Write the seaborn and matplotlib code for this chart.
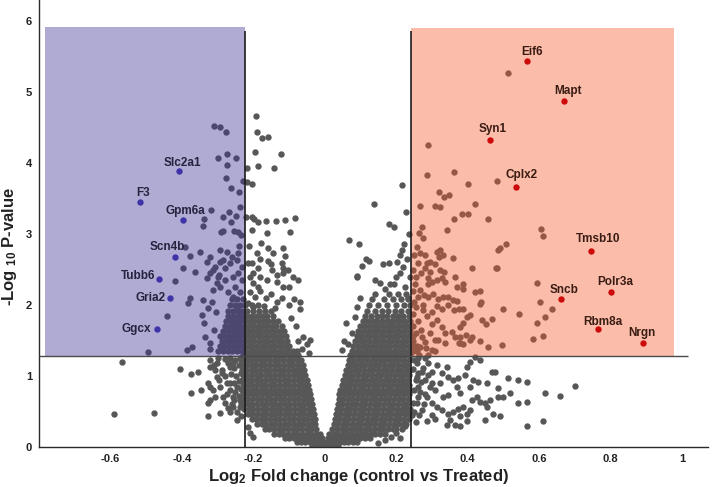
import matplotlib
matplotlib.use("Agg")
import matplotlib.pyplot as plt
import seaborn as sns
import pandas as pd
from matplotlib.patches import Rectangle

# ---------------- data ----------------
# dense V-shaped core: rows of (-log10 p, [log2 FC values])
core_rows = [
    (0.02, [-0.036, -0.024, -0.012, 0.0, 0.012, 0.024, 0.036]),
    (0.07, [-0.078, -0.066, -0.054, -0.042, -0.03, -0.018, -0.006, 0.006, 0.018, 0.03, 0.042, 0.054, 0.066, 0.078, 0.09]),
    (0.12, [-0.112, -0.099, -0.086, -0.073, -0.06, -0.047, -0.034, -0.021, -0.009, 0.008, 0.021, 0.034, 0.047, 0.06, 0.073, 0.086, 0.099, 0.112, 0.126]),
    (0.18, [-0.142, -0.129, -0.116, -0.103, -0.09, -0.077, -0.064, -0.051, -0.038, -0.025, -0.013, 0.013, 0.025, 0.038, 0.051, 0.064, 0.077, 0.09, 0.103, 0.116, 0.129, 0.142, 0.156, 0.168]),
    (0.25, [-0.168, -0.155, -0.142, -0.129, -0.116, -0.103, -0.09, -0.077, -0.064, -0.051, -0.038, -0.024, 0.021, 0.034, 0.047, 0.06, 0.073, 0.086, 0.099, 0.112, 0.125, 0.138, 0.151, 0.164, 0.177, 0.19, 0.2]),
    (0.32, [-0.19, -0.177, -0.164, -0.151, -0.138, -0.125, -0.112, -0.099, -0.086, -0.073, -0.06, -0.047, -0.035, -0.026, 0.026, 0.037, 0.05, 0.063, 0.076, 0.089, 0.102, 0.115, 0.128, 0.141, 0.154, 0.167, 0.18, 0.193, 0.206, 0.219, 0.228]),
    (0.39, [-0.205, -0.192, -0.179, -0.166, -0.153, -0.14, -0.127, -0.114, -0.101, -0.088, -0.075, -0.062, -0.049, -0.037, -0.028, 0.029, 0.04, 0.053, 0.066, 0.079, 0.092, 0.105, 0.118, 0.131, 0.144, 0.157, 0.17, 0.183, 0.196, 0.209, 0.222, 0.235]),
    (0.46, [-0.216, -0.203, -0.19, -0.177, -0.164, -0.151, -0.138, -0.125, -0.112, -0.099, -0.086, -0.073, -0.06, -0.047, -0.036, -0.03, 0.032, 0.043, 0.056, 0.069, 0.082, 0.095, 0.108, 0.121, 0.134, 0.147, 0.16, 0.173, 0.186, 0.199, 0.212, 0.225, 0.237]),
    (0.53, [-0.226, -0.213, -0.2, -0.187, -0.174, -0.161, -0.148, -0.135, -0.122, -0.109, -0.096, -0.083, -0.07, -0.057, -0.044, -0.033, 0.034, 0.046, 0.059, 0.072, 0.085, 0.098, 0.111, 0.124, 0.137, 0.15, 0.163, 0.176, 0.189, 0.202, 0.215, 0.228, 0.238]),
    (0.60, [-0.229, -0.216, -0.203, -0.19, -0.177, -0.164, -0.151, -0.138, -0.125, -0.112, -0.099, -0.086, -0.073, -0.06, -0.047, -0.036, 0.037, 0.049, 0.062, 0.075, 0.088, 0.101, 0.114, 0.127, 0.14, 0.153, 0.166, 0.179, 0.192, 0.205, 0.218, 0.231]),
    (0.67, [-0.23, -0.217, -0.204, -0.191, -0.178, -0.165, -0.152, -0.139, -0.126, -0.113, -0.1, -0.087, -0.074, -0.061, -0.049, -0.038, 0.039, 0.051, 0.064, 0.077, 0.09, 0.103, 0.116, 0.129, 0.142, 0.155, 0.168, 0.181, 0.194, 0.207, 0.22, 0.233]),
    (0.74, [-0.228, -0.215, -0.202, -0.189, -0.176, -0.163, -0.15, -0.137, -0.124, -0.111, -0.098, -0.085, -0.072, -0.06, -0.05, -0.04, 0.041, 0.053, 0.066, 0.079, 0.092, 0.105, 0.118, 0.131, 0.144, 0.157, 0.17, 0.183, 0.196, 0.209, 0.222, 0.236]),
    (0.81, [-0.231, -0.218, -0.205, -0.192, -0.179, -0.166, -0.153, -0.14, -0.127, -0.114, -0.101, -0.088, -0.075, -0.063, -0.053, -0.043, 0.044, 0.056, 0.069, 0.082, 0.095, 0.108, 0.121, 0.134, 0.147, 0.16, 0.173, 0.186, 0.199, 0.212, 0.225, 0.238]),
    (0.88, [-0.229, -0.216, -0.203, -0.19, -0.177, -0.164, -0.151, -0.138, -0.125, -0.112, -0.099, -0.086, -0.073, -0.061, -0.052, -0.046, 0.048, 0.059, 0.072, 0.085, 0.098, 0.111, 0.124, 0.137, 0.15, 0.163, 0.176, 0.189, 0.202, 0.215, 0.228, 0.237]),
    (0.95, [-0.232, -0.219, -0.206, -0.193, -0.18, -0.167, -0.154, -0.141, -0.128, -0.115, -0.102, -0.089, -0.076, -0.063, -0.05, 0.052, 0.064, 0.077, 0.09, 0.103, 0.116, 0.129, 0.142, 0.155, 0.168, 0.181, 0.194, 0.207, 0.22, 0.233]),
    (1.02, [-0.23, -0.217, -0.204, -0.191, -0.178, -0.165, -0.152, -0.139, -0.126, -0.113, -0.1, -0.087, -0.074, -0.063, -0.054, 0.056, 0.067, 0.08, 0.093, 0.106, 0.119, 0.132, 0.145, 0.158, 0.171, 0.184, 0.197, 0.21, 0.223, 0.237]),
    (1.09, [-0.233, -0.22, -0.207, -0.194, -0.181, -0.168, -0.155, -0.142, -0.129, -0.116, -0.103, -0.09, -0.077, -0.066, -0.058, 0.06, 0.071, 0.084, 0.097, 0.11, 0.123, 0.136, 0.149, 0.162, 0.175, 0.188, 0.201, 0.214, 0.227, 0.24]),
    (1.16, [-0.231, -0.218, -0.205, -0.192, -0.179, -0.166, -0.153, -0.14, -0.127, -0.114, -0.101, -0.088, -0.075, -0.062, 0.064, 0.075, 0.088, 0.101, 0.114, 0.127, 0.14, 0.153, 0.166, 0.179, 0.192, 0.205, 0.218, 0.231]),
    (1.23, [-0.234, -0.221, -0.208, -0.195, -0.182, -0.169, -0.156, -0.143, -0.13, -0.117, -0.104, -0.091, -0.078, -0.066, 0.068, 0.079, 0.092, 0.105, 0.118, 0.131, 0.144, 0.157, 0.17, 0.183, 0.196, 0.209, 0.222, 0.236]),
    (1.29, [-0.23, -0.217, -0.204, -0.191, -0.178, -0.165, -0.152, -0.139, -0.126, -0.113, -0.1, -0.087, -0.074, 0.072, 0.083, 0.096, 0.109, 0.122, 0.135, 0.148, 0.161, 0.174, 0.187, 0.2, 0.213, 0.226, 0.239]),
]

# dense blobs just above the significance line
upper_rows = [
    (1.36, [-0.298, -0.285, -0.272, -0.259, -0.246, -0.233, -0.22, -0.207, -0.194, -0.181, -0.168, -0.155, -0.142, -0.129, -0.116, -0.103, -0.09, -0.078,
            0.076, 0.089, 0.102, 0.115, 0.128, 0.141, 0.154, 0.167, 0.18, 0.193, 0.206, 0.219, 0.232, 0.245, 0.258]),
    (1.43, [-0.294, -0.281, -0.268, -0.255, -0.242, -0.229, -0.216, -0.203, -0.19, -0.177, -0.164, -0.151, -0.138, -0.125, -0.112, -0.099,
            0.08, 0.093, 0.106, 0.119, 0.132, 0.145, 0.158, 0.171, 0.184, 0.197, 0.21, 0.223, 0.236, 0.25]),
    (1.50, [-0.288, -0.275, -0.262, -0.249, -0.236, -0.223, -0.21, -0.197, -0.184, -0.171, -0.158, -0.145, -0.132, -0.119, -0.106,
            0.085, 0.098, 0.111, 0.124, 0.137, 0.15, 0.163, 0.176, 0.189, 0.202, 0.215, 0.228, 0.241]),
    (1.57, [-0.292, -0.279, -0.266, -0.253, -0.24, -0.227, -0.214, -0.201, -0.188, -0.175, -0.162, -0.149, -0.136, -0.122, -0.109,
            0.089, 0.102, 0.115, 0.128, 0.141, 0.154, 0.167, 0.18, 0.193, 0.206, 0.219, 0.232, 0.246]),
    (1.64, [-0.284, -0.271, -0.258, -0.245, -0.232, -0.219, -0.206, -0.193, -0.18, -0.167, -0.154, -0.141, -0.128, -0.114,
            0.094, 0.108, 0.121, 0.134, 0.147, 0.16, 0.173, 0.186, 0.199, 0.212, 0.225, 0.238]),
    (1.71, [-0.28, -0.266, -0.253, -0.24, -0.227, -0.214, -0.201, -0.188, -0.175, -0.162, -0.149, -0.136, -0.121,
            0.1, 0.114, 0.127, 0.14, 0.153, 0.166, 0.179, 0.192, 0.205, 0.218, 0.231, 0.244]),
    (1.78, [-0.276, -0.262, -0.249, -0.236, -0.223, -0.21, -0.197, -0.184, -0.171, -0.158, -0.144, -0.13,
            0.106, 0.12, 0.134, 0.147, 0.16, 0.173, 0.186, 0.199, 0.212, 0.225, 0.238]),
    (1.85, [-0.27, -0.256, -0.243, -0.23, -0.217, -0.204, -0.19, -0.176, -0.161, -0.146,
            0.112, 0.13, 0.145, 0.16, 0.175, 0.19, 0.205, 0.22, 0.235]),
    (1.92, [-0.272, -0.258, -0.244, -0.231, -0.218, -0.2, -0.184, -0.167, -0.15,
            0.118, 0.14, 0.16, 0.178, 0.196, 0.214, 0.232]),
    (2.00, [-0.265, -0.25, -0.236, -0.222, -0.205, -0.186, 0.124, 0.15, 0.175, 0.2, 0.222, 0.238]),
    (2.08, [-0.26, -0.245, -0.23, 0.133, 0.165, 0.19, 0.213, 0.234]),
    (2.16, [0.142, 0.18, 0.205, 0.228]),
]

# scattered genes, (log2 FC, -log10 p)
left_low = [
    (-0.591, 0.46), (-0.479, 0.48), (-0.569, 1.20), (-0.406, 1.10), (-0.375, 1.03), (-0.355, 1.06),
    (-0.375, 0.76), (-0.347, 0.80), (-0.327, 0.62), (-0.327, 0.44), (-0.294, 0.48), (-0.266, 0.49),
    (-0.258, 0.70), (-0.308, 0.70), (-0.322, 0.85), (-0.294, 0.85), (-0.303, 0.99), (-0.322, 1.13),
    (-0.289, 1.08), (-0.266, 0.90), (-0.258, 1.18), (-0.238, 0.56), (-0.246, 0.38), (-0.328, 0.90),
    (-0.314, 0.80), (-0.322, 0.66), (-0.286, 0.70), (-0.275, 0.90), (-0.303, 1.18), (-0.289, 1.04),
    (-0.266, 1.13), (-0.258, 0.56), (-0.246, 0.85), (-0.238, 0.66), (-0.322, 1.22), (-0.308, 1.08),
    (-0.236, 1.25), (-0.25, 1.22), (-0.265, 1.26), (-0.28, 1.24), (-0.24, 1.15), (-0.255, 1.12),
    (-0.27, 1.18), (-0.235, 1.05), (-0.248, 1.0), (-0.262, 1.03), (-0.278, 1.0), (-0.24, 0.93),
    (-0.255, 0.9), (-0.235, 0.82), (-0.25, 0.78), (-0.265, 0.8), (-0.24, 0.72), (-0.255, 0.66),
    (-0.235, 0.62), (-0.245, 0.5), (-0.235, 0.44), (-0.26, 0.6), (-0.275, 0.75), (-0.28, 0.62),
    (-0.27, 0.55), (-0.3, 1.25), (-0.31, 1.15), (-0.295, 0.95), (-0.215, 0.28), (-0.21, 0.2),
    (-0.2, 0.14),
]

mid_high = [
    (-0.193, 4.66), (-0.190, 4.44), (-0.176, 4.35), (-0.160, 4.37), (-0.196, 4.16), (-0.123, 4.13),
    (-0.188, 3.96), (-0.143, 3.93), (-0.218, 3.93), (-0.218, 3.73), (-0.204, 3.70), (-0.221, 3.24),
    (-0.204, 3.24), (-0.199, 3.21), (-0.188, 3.17), (-0.165, 3.18), (-0.137, 3.18), (-0.112, 3.20),
    (-0.084, 3.23), (-0.204, 3.06), (-0.162, 3.01), (-0.098, 3.03), (-0.213, 2.83), (-0.179, 2.87),
    (-0.160, 2.80), (-0.118, 2.80), (-0.19, 2.73), (-0.146, 2.73), (-0.112, 2.69), (-0.182, 2.65),
    (-0.151, 2.58), (-0.12, 2.59), (-0.204, 2.59), (-0.188, 2.52), (-0.148, 2.49), (-0.118, 2.52),
    (-0.104, 2.49), (-0.202, 2.45), (-0.182, 2.39), (-0.134, 2.42), (-0.118, 2.45), (-0.076, 2.35),
    (-0.162, 2.35), (-0.202, 2.31), (-0.188, 2.25), (-0.134, 2.32), (-0.118, 2.25), (-0.21, 2.18),
    (-0.195, 2.12), (-0.18, 2.2), (-0.165, 2.1), (-0.15, 2.15), (-0.135, 2.05), (-0.12, 2.1),
    (-0.1, 2.0), (-0.085, 2.08), (-0.07, 1.95), (-0.215, 2.03), (-0.2, 1.98), (-0.17, 1.99),
    (-0.14, 1.96), (-0.095, 1.82), (-0.08, 1.7), (-0.06, 1.55), (-0.05, 1.45), (-0.075, 1.5),
    (-0.065, 1.38), (-0.045, 1.33), (-0.1, 2.25), (-0.09, 2.4), (-0.07, 2.04), (-0.042, 1.51),
    (-0.215, 2.6), (-0.21, 2.4), (-0.16, 2.62),
    (0.067, 2.92), (0.095, 2.86), (0.216, 3.69), (0.137, 3.43), (0.227, 3.31), (0.179, 3.15),
    (0.193, 3.10), (0.221, 2.86), (0.115, 2.65), (0.123, 2.62), (0.104, 2.55), (0.090, 2.39),
    (0.162, 2.58), (0.179, 2.59), (0.202, 2.61), (0.210, 2.70), (0.216, 2.77), (0.140, 2.35),
    (0.154, 2.31), (0.182, 2.30), (0.193, 2.30), (0.21, 2.45), (0.218, 2.54), (0.20, 2.40),
    (0.225, 2.25), (0.17, 2.22), (0.06, 1.75), (0.084, 1.83), (0.09, 1.97), (0.048, 1.37),
    (0.055, 1.5), (0.1, 2.1), (0.23, 2.65), (0.09, 2.41), (0.075, 1.6), (0.065, 1.45),
    (0.235, 3.0), (0.24, 2.4), (0.232, 2.1),
]

blue_zone = [
    (-0.311, 4.52), (-0.294, 4.51), (-0.277, 4.44), (-0.300, 4.07), (-0.275, 4.13), (-0.249, 4.07),
    (-0.275, 3.97), (-0.277, 3.79), (-0.263, 3.65), (-0.241, 3.59), (-0.230, 3.75), (-0.238, 3.38),
    (-0.319, 3.34), (-0.339, 3.22), (-0.342, 3.11), (-0.286, 3.24), (-0.269, 3.31), (-0.263, 3.17),
    (-0.249, 3.25), (-0.291, 3.03), (-0.284, 3.05), (-0.255, 3.04), (-0.244, 3.03), (-0.235, 2.99),
    (-0.241, 2.83), (-0.35, 2.75), (-0.322, 2.68), (-0.294, 2.77), (-0.275, 2.75), (-0.261, 2.68),
    (-0.244, 2.73), (-0.331, 2.61), (-0.308, 2.54), (-0.294, 2.61), (-0.28, 2.52), (-0.266, 2.59),
    (-0.246, 2.63), (-0.232, 2.54), (-0.322, 2.45), (-0.3, 2.39), (-0.28, 2.35), (-0.258, 2.39),
    (-0.244, 2.45), (-0.232, 2.35), (-0.314, 2.21), (-0.294, 2.25), (-0.272, 2.18), (-0.252, 2.25),
    (-0.238, 2.18), (-0.392, 2.82), (-0.378, 2.69), (-0.364, 2.46), (-0.398, 2.52), (-0.42, 2.34),
    (-0.378, 2.10), (-0.384, 2.03), (-0.342, 2.07), (-0.328, 1.96), (-0.345, 1.86), (-0.442, 1.85),
    (-0.373, 1.41), (-0.387, 1.37), (-0.496, 1.34), (-0.339, 1.75), (-0.336, 1.55), (-0.322, 1.46),
    (-0.303, 2.31), (-0.331, 2.38), (-0.314, 2.49), (-0.297, 2.42), (-0.286, 2.63), (-0.258, 2.11),
    (-0.246, 1.97), (-0.31, 1.65), (-0.32, 1.38), (-0.305, 1.9), (-0.315, 2.05),
]

red_zone = [
    (0.513, 5.27), (0.288, 4.25), (0.286, 3.83), (0.361, 3.87), (0.401, 3.70), (0.482, 3.75),
    (0.319, 3.59), (0.333, 3.52), (0.347, 3.55), (0.605, 3.07), (0.611, 2.97), (0.507, 2.86),
    (0.49, 2.80), (0.266, 3.39), (0.308, 3.39), (0.324, 3.38), (0.420, 3.42), (0.383, 3.29),
    (0.401, 3.29), (0.362, 3.21), (0.457, 3.21), (0.271, 3.10), (0.264, 3.02), (0.275, 2.94),
    (0.341, 3.06), (0.259, 2.82), (0.266, 2.74), (0.313, 2.75), (0.322, 2.77), (0.331, 2.70),
    (0.319, 2.68), (0.358, 2.67), (0.285, 2.59), (0.294, 2.61), (0.308, 2.58), (0.280, 2.52),
    (0.294, 2.47), (0.322, 2.49), (0.334, 2.47), (0.411, 2.52), (0.479, 2.52), (0.485, 2.78),
    (0.288, 2.38), (0.299, 2.33), (0.313, 2.35), (0.327, 2.38), (0.336, 2.32), (0.364, 2.39),
    (0.387, 2.30), (0.386, 2.22), (0.420, 2.19), (0.434, 2.20), (0.252, 2.30), (0.266, 2.21),
    (0.277, 2.14), (0.289, 2.12), (0.303, 2.15), (0.317, 2.09), (0.330, 2.12), (0.345, 2.11),
    (0.359, 2.07), (0.371, 2.06), (0.315, 1.99), (0.327, 1.95), (0.345, 2.00), (0.361, 1.93),
    (0.376, 1.94), (0.387, 1.95), (0.434, 2.02), (0.397, 1.83), (0.408, 1.86), (0.439, 1.79),
    (0.451, 1.73), (0.468, 1.81), (0.275, 1.93), (0.285, 1.84), (0.299, 1.74), (0.313, 1.79),
    (0.327, 1.69), (0.336, 1.60), (0.355, 1.62), (0.364, 1.55), (0.378, 1.46), (0.387, 1.45),
    (0.406, 1.51), (0.434, 1.49), (0.457, 1.41), (0.378, 1.55), (0.317, 1.51), (0.336, 1.46),
    (0.294, 1.60), (0.308, 1.51), (0.271, 1.55), (0.266, 1.41), (0.283, 1.39), (0.299, 1.37),
    (0.248, 1.35), (0.258, 1.42), (0.246, 1.5), (0.255, 1.6), (0.248, 1.7), (0.26, 1.78),
    (0.247, 1.88), (0.255, 1.97), (0.25, 2.05), (0.262, 2.12), (0.248, 2.2), (0.256, 2.4),
    (0.248, 2.5), (0.262, 2.6), (0.25, 2.7), (0.27, 1.65), (0.28, 1.48), (0.29, 1.3),
    (0.31, 1.35), (0.265, 1.3), (0.275, 2.0), (0.29, 2.3), (0.27, 2.45), (0.3, 1.9), (0.28, 2.7),
    (0.594, 2.31), (0.602, 2.04), (0.636, 1.94), (0.616, 1.83), (0.594, 1.75), (0.611, 1.56),
    (0.583, 1.52), (0.543, 1.87), (0.499, 1.94), (0.496, 1.44), (0.437, 2.04), (0.387, 1.75),
    (0.378, 1.69), (0.412, 1.55), (0.395, 1.58), (0.375, 1.46), (0.37, 2.25), (0.482, 2.52),
]

right_low = [
    (0.257, 1.18), (0.275, 1.11), (0.289, 1.18), (0.299, 1.06), (0.313, 1.15), (0.327, 1.04),
    (0.341, 1.13), (0.345, 0.99), (0.322, 0.90), (0.308, 0.80), (0.294, 0.85), (0.280, 0.94),
    (0.266, 0.78), (0.285, 0.71), (0.299, 0.62), (0.313, 0.57), (0.327, 0.52), (0.345, 0.47),
    (0.359, 0.50), (0.373, 0.54), (0.387, 0.57), (0.397, 0.47), (0.406, 0.52), (0.378, 0.43),
    (0.350, 0.38), (0.364, 0.31), (0.378, 0.29), (0.397, 0.36), (0.411, 0.66), (0.425, 0.71),
    (0.434, 0.64), (0.448, 0.62), (0.462, 0.66), (0.378, 0.76), (0.369, 0.85), (0.359, 0.94),
    (0.373, 0.97), (0.406, 0.85), (0.415, 0.94), (0.429, 0.92), (0.453, 0.90), (0.467, 1.06),
    (0.476, 1.06), (0.434, 1.23), (0.420, 1.27), (0.406, 1.20), (0.397, 1.13), (0.392, 1.01),
    (0.345, 0.73), (0.331, 0.71), (0.299, 0.45), (0.308, 0.40), (0.341, 0.31), (0.285, 0.36),
    (0.271, 0.52), (0.257, 0.62), (0.261, 0.85), (0.257, 0.99), (0.271, 1.06), (0.513, 0.97),
    (0.541, 0.94), (0.565, 0.92), (0.518, 0.76), (0.541, 0.62), (0.565, 0.64), (0.616, 0.76),
    (0.658, 0.72), (0.700, 0.86), (0.610, 0.37), (0.565, 0.30), (0.485, 0.71), (0.499, 0.71),
    (0.485, 0.83), (0.453, 0.57), (0.471, 0.47), (0.490, 0.43), (0.448, 0.38),
    (0.25, 1.22), (0.262, 1.25), (0.248, 1.1), (0.255, 0.95), (0.25, 0.8), (0.262, 0.7),
    (0.248, 0.62), (0.25, 0.5), (0.265, 0.45), (0.255, 0.35), (0.28, 1.25), (0.29, 1.02),
    (0.277, 0.6), (0.27, 0.92), (0.3, 0.9), (0.28, 0.75), (0.245, 0.45), (0.26, 1.04),
    (0.2, 0.2), (0.215, 0.25), (0.185, 0.14), (0.17, 0.1), (0.225, 0.3), (0.15, 0.06), (0.21, 0.12),
]

# highlighted genes
up_genes = ["Eif6", "Mapt", "Syn1", "Cplx2", "Tmsb10", "Polr3a", "Sncb", "Rbm8a", "Nrgn"]
up_fc = [0.566, 0.669, 0.462, 0.535, 0.745, 0.801, 0.661, 0.765, 0.891]
up_p = [5.44, 4.87, 4.32, 3.66, 2.76, 2.18, 2.08, 1.67, 1.46]
down_genes = ["Slc2a1", "F3", "Gpm6a", "Scn4b", "Tubb6", "Gria2", "Ggcx"]
down_fc = [-0.409, -0.518, -0.396, -0.418, -0.464, -0.434, -0.469]
down_p = [3.89, 3.46, 3.20, 2.68, 2.37, 2.10, 1.66]

x_ticks = [-0.6, -0.4, -0.2, 0, 0.2, 0.4, 0.6, 0.8, 1]
x_tick_labels = ["-0.6", "-0.4", "-0.2", "0", "0.2", "0.4", "0.6", "0.8", "1"]
y_ticks = [0, 1, 2, 3, 4, 5, 6]

# thresholds / region extents
fc_low, fc_high, p_cut = -0.224, 0.241, 1.28
blue_left, blue_top = -0.784, 5.92
red_right, red_top = 0.978, 5.90
vline_top = 5.87
hline_right = 1.017

# ---------------- style ----------------
sns.set_style("white")
plt.rcParams["font.family"] = ["Liberation Sans", "DejaVu Sans"]
plt.rcParams["mathtext.fontset"] = "custom"
plt.rcParams["mathtext.rm"] = "Liberation Sans:bold"
plt.rcParams["mathtext.it"] = "Liberation Sans:bold"
plt.rcParams["mathtext.bf"] = "Liberation Sans:bold"

gx, gy = [], []
for yv, row in core_rows + upper_rows:
    for xv in row:
        gx.append(xv)
        gy.append(yv)
for pts in (left_low, mid_high, blue_zone, red_zone, right_low):
    for xv, yv in pts:
        gx.append(xv)
        gy.append(yv)
gray = pd.DataFrame({"fc": gx, "p": gy})
up = pd.DataFrame({"gene": up_genes, "fc": up_fc, "p": up_p})
down = pd.DataFrame({"gene": down_genes, "fc": down_fc, "p": down_p})

fig = plt.figure(figsize=(7.12, 4.87), dpi=100)
ax = fig.add_axes([39 / 712, 40 / 487, 669 / 712, 447 / 487])

dot = 21
sns.scatterplot(data=gray, x="fc", y="p", color="#575757", s=dot, linewidth=0, ax=ax, zorder=2)

ax.add_patch(Rectangle((blue_left, p_cut), fc_low - blue_left, blue_top - p_cut,
                       facecolor="#392f91", alpha=0.4, lw=0, zorder=3))
ax.add_patch(Rectangle((fc_high, p_cut), red_right - fc_high, red_top - p_cut,
                       facecolor="#f75c2a", alpha=0.4, lw=0, zorder=3))

ax.vlines([fc_low, fc_high], 0, vline_top, color="#1c1c1c", lw=1.2, zorder=4)
ax.hlines(p_cut, -0.8, hline_right, color="#4a4a4a", lw=1.0, zorder=4)

sns.scatterplot(data=down, x="fc", y="p", color="#3f33a8", s=dot, linewidth=0, ax=ax, zorder=5)
sns.scatterplot(data=up, x="fc", y="p", color="#cc0a0a", s=dot, linewidth=0, ax=ax, zorder=5)

# label offsets in pixels (dx, dy, ha)
up_off = {"Eif6": (5, 9, "center"), "Mapt": (4, 10, "center"), "Syn1": (3, 11, "center"),
          "Cplx2": (6, 12, "center"), "Tmsb10": (7, 12, "center"), "Polr3a": (4, 10, "center"),
          "Sncb": (3, 9, "center"), "Rbm8a": (5, 7, "center"), "Nrgn": (-1, 10, "center")}
down_off = {"Slc2a1": (4, 8, "center"), "F3": (3, 9, "center"), "Gpm6a": (2, 9, "center"),
            "Scn4b": (-8, 10, "center"), "Tubb6": (-4, 3, "right"), "Gria2": (-4, 0, "right"),
            "Ggcx": (-6, 0, "right")}
px2pt = 0.72
for df, offs, col in ((up, up_off, "#3a1c14"), (down, down_off, "#26233f")):
    for _, r in df.iterrows():
        dx, dy, ha = offs[r["gene"]]
        ax.annotate(r["gene"], (r["fc"], r["p"]), xytext=(dx * px2pt, dy * px2pt),
                    textcoords="offset points", ha=ha, va="center", fontsize=8.5,
                    fontweight="bold", color=col, zorder=6)

ax.set_xlim(-0.80, 1.073)
ax.set_ylim(0, 6.3)
ax.set_xticks(x_ticks)
ax.set_xticklabels(x_tick_labels)
ax.set_yticks(y_ticks)
ax.tick_params(length=0, labelsize=8, colors="#222222")
ax.tick_params(axis="y", pad=5)
ax.tick_params(axis="x", pad=5)
for lbl in ax.get_xticklabels() + ax.get_yticklabels():
    lbl.set_fontweight("bold")

sns.despine(ax=ax)
for s in ("left", "bottom"):
    ax.spines[s].set_color("#2a2a2a")
    ax.spines[s].set_linewidth(1.0)

ax.set_xlabel(r"Log$_{2}$ Fold change (control vs Treated)", fontsize=12, fontweight="bold", color="#222222")
ax.set_ylabel(r"-Log $_{10}$ P-value", fontsize=12, fontweight="bold", color="#222222")
ax.xaxis.set_label_coords(0.477, -0.045)
ax.yaxis.set_label_coords(-0.03, 0.45)

fig.savefig("out.png", dpi=100)
